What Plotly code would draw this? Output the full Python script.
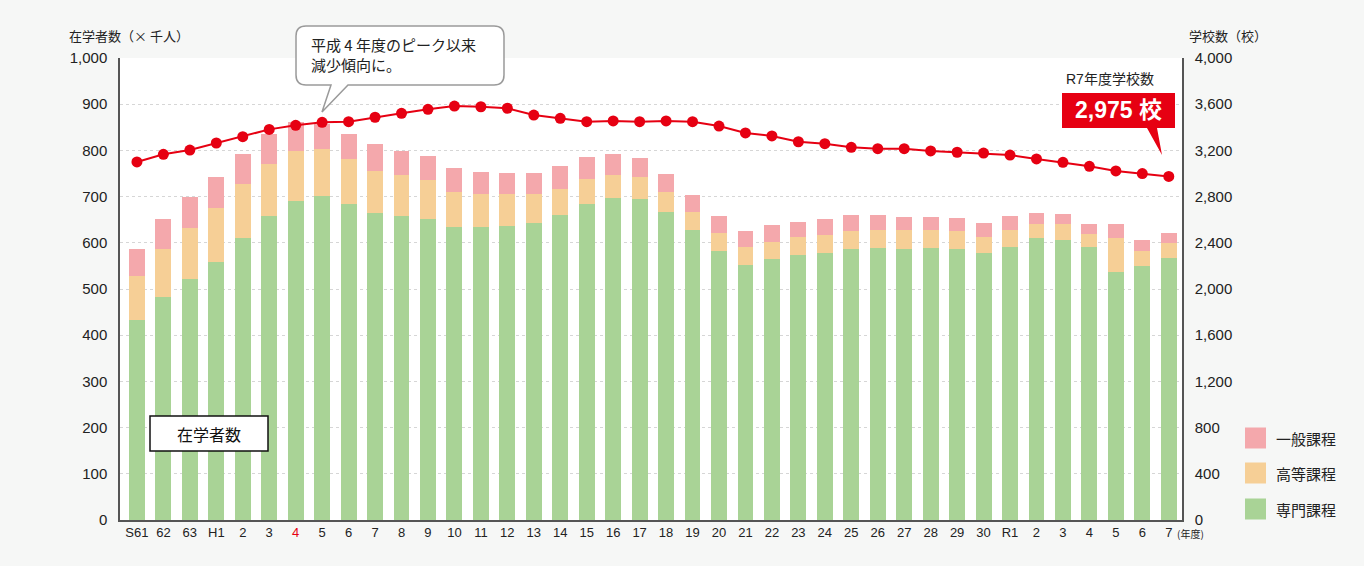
import plotly.graph_objects as go

# ---------------- data ----------------
years = ["S61", "S62", "S63", "H1", "H2", "H3", "H4", "H5", "H6", "H7", "H8", "H9", "H10",
         "H11", "H12", "H13", "H14", "H15", "H16", "H17", "H18", "H19", "H20", "H21", "H22",
         "H23", "H24", "H25", "H26", "H27", "H28", "H29", "H30", "R1", "R2", "R3", "R4",
         "R5", "R6", "R7"]
tick_labels = ["S61", "62", "63", "H1", "2", "3", "4", "5", "6", "7", "8", "9", "10",
               "11", "12", "13", "14", "15", "16", "17", "18", "19", "20", "21", "22",
               "23", "24", "25", "26", "27", "28", "29", "30", "R1", "2", "3", "4",
               "5", "6", "7"]

# students (thousand persons)
senmon = [433, 483, 522, 558, 610, 658, 691, 701, 684, 665, 658, 652, 634,
          634, 636, 643, 660, 684, 697, 695, 667, 628, 582, 552, 565,
          574, 578, 587, 589, 587, 589, 587, 578, 591, 610, 606, 591,
          537, 550, 567]
koto = [95, 104, 110, 117, 117, 113, 108, 102, 97, 90, 89, 84, 76,
        72, 70, 63, 57, 54, 50, 47, 43, 39, 39, 39, 37,
        39, 39, 39, 39, 41, 39, 39, 35, 37, 31, 35, 28,
        73, 32, 33]
ippan = [59, 65, 67, 67, 65, 65, 63, 54, 55, 59, 52, 52, 52,
         47, 45, 45, 49, 48, 45, 42, 39, 37, 37, 35, 37,
         32, 35, 34, 32, 28, 28, 28, 30, 30, 24, 21, 22,
         31, 24, 21]

# schools
schools = [3100, 3166, 3203, 3264, 3319, 3382, 3417, 3443, 3449, 3487, 3521, 3556, 3584,
           3578, 3565, 3506, 3478, 3449, 3455, 3449, 3455, 3449, 3411, 3351, 3325,
           3275, 3258, 3227, 3215, 3215, 3195, 3184, 3177, 3160, 3126, 3097, 3062,
           3022, 2999, 2975]

series_names = ["専門課程", "高等課程", "一般課程"]
colors = {"専門課程": "#a9d396", "高等課程": "#f6cf96", "一般課程": "#f4a8ac"}
RED = "#e60012"

# ---------------- layout helpers (pixel -> paper) ----------------
L, R, T, B = 120, 1182, 58, 520
W, H = 1364, 566


def px(x):
    return (x - L) / (R - L)


def py(y):
    return (B - y) / (B - T)


def P(x, y):
    return f"{px(x):.5f},{py(y):.5f}"


fig = go.Figure()
for name, vals in zip(series_names, [senmon, koto, ippan]):
    fig.add_trace(go.Bar(x=years, y=vals, name=name, marker_color=colors[name],
                         marker_line_width=0, yaxis="y"))

fig.add_trace(go.Scatter(x=years, y=schools, mode="lines+markers", name="学校数",
                         line=dict(color=RED, width=2),
                         marker=dict(color=RED, size=11), yaxis="y2"))

FONT = "Liberation Sans, Noto Sans CJK JP, sans-serif"
JFONT = "Noto Sans CJK JP, sans-serif"

ticktext = [f'<span style="color:{RED}">{t}</span>' if i == 6 else t
            for i, t in enumerate(tick_labels)]

shapes = []
annotations = []

# speech balloon
x0, x1, y0, y1, r = 296, 504, 26, 85, 10
balloon = (f"M {P(x0 + r, y0)} L {P(x1 - r, y0)} Q {P(x1, y0)} {P(x1, y0 + r)} "
           f"L {P(x1, y1 - r)} Q {P(x1, y1)} {P(x1 - r, y1)} "
           f"L {P(348, y1)} L {P(322, 112)} L {P(331, y1)} "
           f"L {P(x0 + r, y1)} Q {P(x0, y1)} {P(x0, y1 - r)} "
           f"L {P(x0, y0 + r)} Q {P(x0, y0)} {P(x0 + r, y0)} Z")
shapes.append(dict(type="path", xref="paper", yref="paper", path=balloon,
                   fillcolor="white", line=dict(color="#9a9a9a", width=1.5), layer="above"))
annotations.append(dict(xref="paper", yref="paper", x=px(309), y=py(54), xanchor="left",
                        yanchor="middle", align="left", showarrow=False,
                        text="平成 4 年度のピーク以来<br>減少傾向に。",
                        font=dict(family=JFONT, size=15, color="#222")))

# red label box
redbox = (f"M {P(1062, 93)} L {P(1175, 93)} L {P(1175, 128)} L {P(1157, 128)} "
          f"L {P(1162, 155)} L {P(1147, 128)} L {P(1062, 128)} Z")
shapes.append(dict(type="path", xref="paper", yref="paper", path=redbox,
                   fillcolor=RED, line=dict(width=0), layer="above"))
annotations.append(dict(xref="paper", yref="paper", x=px(1118), y=py(110), xanchor="center",
                        yanchor="middle", showarrow=False, text="<b>2,975 校</b>",
                        font=dict(family=FONT, size=23, color="white")))
annotations.append(dict(xref="paper", yref="paper", x=px(1110), y=py(79), xanchor="center",
                        yanchor="middle", showarrow=False, text="R7年度学校数",
                        font=dict(family=FONT, size=14, color="#222")))

# 在学者数 box
shapes.append(dict(type="rect", xref="paper", yref="paper", x0=px(150), x1=px(268),
                   y0=py(451), y1=py(416), fillcolor="white",
                   line=dict(color="#111", width=1.5), layer="above"))
annotations.append(dict(xref="paper", yref="paper", x=px(209), y=py(434), xanchor="center",
                        yanchor="middle", showarrow=False, text="在学者数",
                        font=dict(family=JFONT, size=16, color="#111")))

# axis titles
annotations.append(dict(xref="paper", yref="paper", x=px(67), y=py(36), xanchor="left",
                        yanchor="middle", showarrow=False, text="在学者数（× 千人）",
                        font=dict(family=JFONT, size=13, color="#222")))
annotations.append(dict(xref="paper", yref="paper", x=px(1187), y=py(35), xanchor="left",
                        yanchor="middle", showarrow=False, text="学校数（校）",
                        font=dict(family=JFONT, size=13, color="#222")))
annotations.append(dict(xref="paper", yref="paper", x=px(1175), y=py(533), xanchor="left",
                        yanchor="middle", showarrow=False, text="(年度)",
                        font=dict(family=JFONT, size=10, color="#222")))

# custom legend
legend_items = [("一般課程", 438), ("高等課程", 473), ("専門課程", 509)]
for name, yc in legend_items:
    shapes.append(dict(type="rect", xref="paper", yref="paper", x0=px(1245), x1=px(1266),
                       y0=py(yc + 10.5), y1=py(yc - 10.5), fillcolor=colors[name],
                       line=dict(width=0)))
    annotations.append(dict(xref="paper", yref="paper", x=px(1274), y=py(yc), xanchor="left",
                            yanchor="middle", showarrow=False, text=name,
                            font=dict(family=JFONT, size=15, color="#222")))

fig.update_layout(
    width=W, height=H,
    margin=dict(l=L, r=W - R, t=T, b=H - B),
    paper_bgcolor="#f6f7f6", plot_bgcolor="white",
    barmode="stack", bargap=0.4, showlegend=False,
    font=dict(family=FONT, size=15, color="#222"),
    xaxis=dict(type="category", categoryorder="array", categoryarray=years,
               tickmode="array", tickvals=years, ticktext=ticktext,
               tickfont=dict(size=13, color="#222"), showgrid=False,
               showline=True, linecolor="#555", linewidth=1.5, ticks="",
               range=[-0.64, len(years) - 0.5]),
    yaxis=dict(range=[0, 1000], dtick=100, tickformat=",", showgrid=True,
               gridcolor="#d6d6d6", griddash="dot", gridwidth=1,
               showline=True, linecolor="#555", linewidth=1.5, ticks="",
               ticklabelstandoff=8, zeroline=False, tickfont=dict(size=15)),
    yaxis2=dict(range=[0, 4000], dtick=400, tickformat=",", overlaying="y", side="right",
                showgrid=False, showline=True, linecolor="#555", linewidth=1.5, ticks="",
                ticklabelstandoff=8, zeroline=False, tickfont=dict(size=15)),
    shapes=shapes, annotations=annotations,
)

fig.write_html("out.html", config={"displayModeBar": False},
               post_script="document.body.style.margin='0';document.body.style.overflow='hidden';")
